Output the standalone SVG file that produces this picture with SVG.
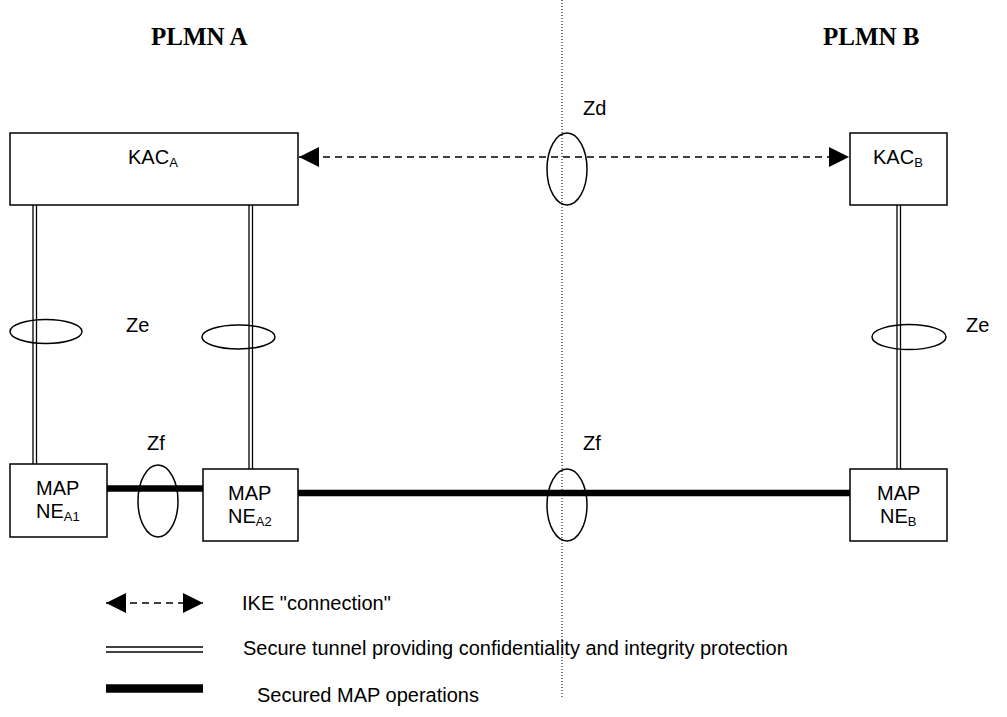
<svg xmlns="http://www.w3.org/2000/svg" width="1007" height="717" viewBox="0 0 1007 717">
<style>
.box{fill:#fff;stroke:#000;stroke-width:1.5}
.t{font-family:"Liberation Sans",Arial,sans-serif;font-size:20px;fill:#000}
.s{font-size:13px}
.h{font-family:"Liberation Serif","Times New Roman",serif;font-size:25px;font-weight:bold;fill:#000}
.dbl{stroke:#000;stroke-width:1.3;fill:none}
.thick{stroke:#000;stroke-width:6.5;fill:none}
.dash{stroke:#000;stroke-width:1.3;stroke-dasharray:7,5;fill:none}
.ell{fill:none;stroke:#000;stroke-width:1.5}
</style>
<defs>
<marker id="ah" viewBox="0 0 10 10" refX="10" refY="5" markerWidth="20" markerHeight="20" markerUnits="userSpaceOnUse" orient="auto-start-reverse">
<path d="M0,0 L10,5 L0,10 Z" fill="#000"/>
</marker>
</defs>
<rect width="1007" height="717" fill="#fff"/>
<text class="h" x="151" y="45">PLMN A</text>
<text class="h" x="823" y="45">PLMN B</text>
<line x1="562" y1="0" x2="562" y2="697" stroke="#000" stroke-width="1" stroke-dasharray="1,2"/>
<g id="connectors">
<line class="dash" x1="299" y1="157" x2="849" y2="157" marker-start="url(#ah)" marker-end="url(#ah)"/>
<line class="dbl" x1="33" y1="205" x2="33" y2="464"/>
<line class="dbl" x1="36.5" y1="205" x2="36.5" y2="464"/>
<line class="dbl" x1="249" y1="205" x2="249" y2="469"/>
<line class="dbl" x1="252.5" y1="205" x2="252.5" y2="469"/>
<line class="dbl" x1="897" y1="205" x2="897" y2="469"/>
<line class="dbl" x1="900.5" y1="205" x2="900.5" y2="469"/>
<line class="thick" x1="107" y1="488.5" x2="203" y2="488.5"/>
<line class="thick" x1="298" y1="493" x2="850" y2="493"/>
<ellipse class="ell" cx="567" cy="169" rx="20" ry="36"/>
<ellipse class="ell" cx="46" cy="331.5" rx="36" ry="12"/>
<ellipse class="ell" cx="238.5" cy="337" rx="36.5" ry="12"/>
<ellipse class="ell" cx="909" cy="337" rx="37" ry="12.5"/>
<ellipse class="ell" cx="158" cy="501" rx="20" ry="36"/>
<ellipse class="ell" cx="567" cy="505" rx="20" ry="36"/>
<text class="t" x="583" y="115">Zd</text>
<text class="t" x="126" y="332">Ze</text>
<text class="t" x="966" y="332">Ze</text>
<text class="t" x="147" y="450">Zf</text>
<text class="t" x="583" y="450">Zf</text>
</g>
<g id="kacA">
<rect class="box" x="10" y="133" width="288" height="72"/>
<text class="t" x="128" y="164">KAC<tspan class="s" dy="3">A</tspan></text>
</g>
<g id="kacB">
<rect class="box" x="850" y="133" width="97" height="72"/>
<text class="t" x="873" y="164">KAC<tspan class="s" dy="3">B</tspan></text>
</g>
<g id="mapA1">
<rect class="box" x="10" y="464" width="97" height="73"/>
<text class="t" x="36" y="495">MAP</text>
<text class="t" x="36" y="518">NE<tspan class="s" dy="3">A1</tspan></text>
</g>
<g id="mapA2">
<rect class="box" x="203" y="469" width="95" height="72"/>
<text class="t" x="228" y="500">MAP</text>
<text class="t" x="228" y="523">NE<tspan class="s" dy="3">A2</tspan></text>
</g>
<g id="mapB">
<rect class="box" x="850" y="469" width="97" height="72"/>
<text class="t" x="877" y="500">MAP</text>
<text class="t" x="880" y="523">NE<tspan class="s" dy="3">B</tspan></text>
</g>
<g id="legend">
<line class="dash" x1="106" y1="603" x2="203" y2="603" stroke-dasharray="6,4" marker-start="url(#ah)" marker-end="url(#ah)"/>
<text class="t" x="242" y="610">IKE "connection"</text>
<line class="dbl" x1="106" y1="647" x2="203" y2="647"/>
<line class="dbl" x1="106" y1="652" x2="203" y2="652"/>
<text class="t" x="243" y="655">Secure tunnel providing confidentiality and integrity protection</text>
<line x1="106" y1="688.5" x2="203" y2="688.5" stroke="#000" stroke-width="8.5"/>
<text class="t" x="257" y="702">Secured MAP operations</text>
</g>
</svg>
